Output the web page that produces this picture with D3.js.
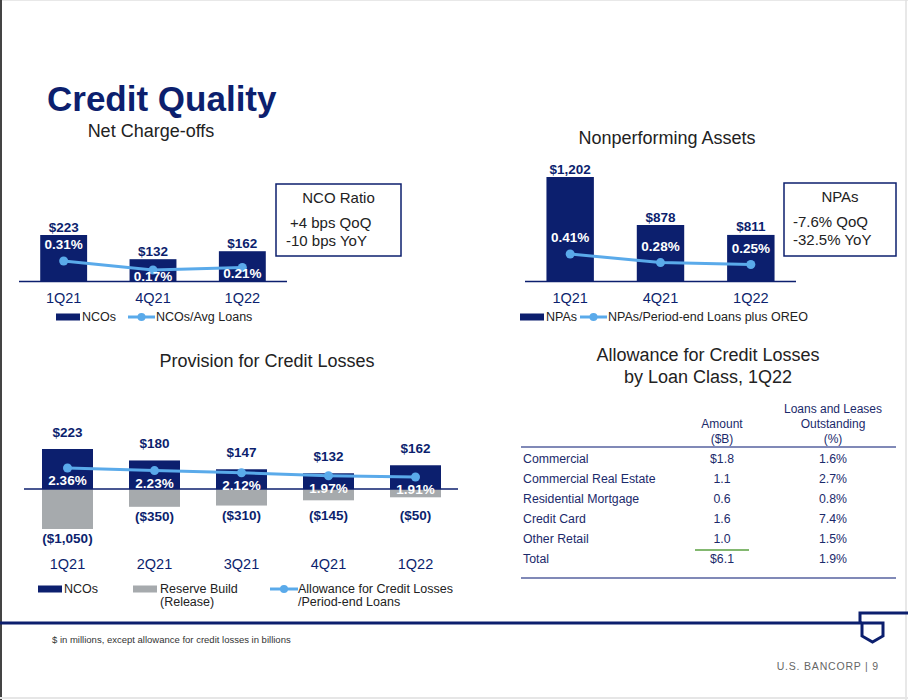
<!DOCTYPE html>
<html><head><meta charset="utf-8">
<script src="https://cdn.jsdelivr.net/npm/d3@7"></script>
<style>
html,body{margin:0;padding:0;background:#fff;}
svg{display:block;font-family:Arial,"Liberation Sans",sans-serif;}
</style></head>
<body>
<svg id="c" width="908" height="700"></svg>
<script>
// ---------- DATA ----------
const ncoQuarters = ["1Q21", "4Q21", "1Q22"];
const ncoValues = [223, 132, 162];
const ncoRatio = [0.31, 0.17, 0.21];

const npaQuarters = ["1Q21", "4Q21", "1Q22"];
const npaValues = [1202, 878, 811];
const npaRatio = [0.41, 0.28, 0.25];

const provQuarters = ["1Q21", "2Q21", "3Q21", "4Q21", "1Q22"];
const provNcos = [223, 180, 147, 132, 162];
const provReserve = [-1050, -350, -310, -145, -50];
const provAllowance = [2.36, 2.23, 2.12, 1.97, 1.91];

const loanClasses = ["Commercial", "Commercial Real Estate", "Residential Mortgage", "Credit Card", "Other Retail", "Total"];
const allowAmount = ["$1.8", "1.1", "0.6", "1.6", "1.0", "$6.1"];
const allowPct = ["1.6%", "2.7%", "0.8%", "7.4%", "1.5%", "1.9%"];

// ---------- STYLE ----------
const NAVY = "#0c1f6e", LBLUE = "#5aaaea", GRAY = "#a6aaad", TXT = "#222";
const fmtD = v => "$" + d3.format(",")(v);
const fmtN = v => "($" + d3.format(",")(Math.abs(v)) + ")";
const fmtP = v => v.toFixed(2) + "%";
const LFS = 12.5, VFS = 13.5;

const svg = d3.select("#c");

// page frame
svg.append("rect").attr("x",0).attr("y",0).attr("width",908).attr("height",700).attr("fill","#fff");
svg.append("line").attr("x1",0).attr("x2",908).attr("y1",0.5).attr("y2",0.5).attr("stroke","#e8e8e8");
svg.append("line").attr("x1",1).attr("x2",1).attr("y1",0).attr("y2",700).attr("stroke","#444").attr("stroke-width",2);
svg.append("line").attr("x1",906).attr("x2",906).attr("y1",0).attr("y2",700).attr("stroke","#e0e0e0").attr("stroke-width",1.5);
svg.append("line").attr("x1",0).attr("x2",908).attr("y1",698).attr("y2",698).attr("stroke","#e6e6e6").attr("stroke-width",2);

// Title
svg.append("text").attr("x",47).attr("y",111).attr("font-size",35).attr("font-weight","bold")
  .attr("fill",NAVY).text("Credit Quality");

function subtitle(x, y, t) {
  svg.append("text").attr("x",x).attr("y",y).attr("text-anchor","middle").attr("font-size",18).attr("fill",TXT).text(t);
}

// ---------- generic bar+line chart ----------
function barLine(cfg) {
  const g = svg.append("g");
  const x = d3.scaleBand().domain(cfg.cats).range(cfg.xr).paddingInner(0.475).paddingOuter(0.2375);
  const yB = d3.scaleLinear().domain(cfg.barDomain).range(cfg.barRange);
  const yL = d3.scaleLinear().domain(cfg.lineDomain).range(cfg.lineRange);
  const base = cfg.barRange[0];
  g.selectAll("rect.bar").data(cfg.values).join("rect").attr("class","bar")
    .attr("x",(d,i)=>x(cfg.cats[i])).attr("width",x.bandwidth())
    .attr("y",d=>yB(d)).attr("height",d=>base-yB(d)).attr("fill",NAVY);
  g.append("line").attr("x1",cfg.xr[0]).attr("x2",cfg.xr[1]).attr("y1",base+0.5).attr("y2",base+0.5)
    .attr("stroke",NAVY).attr("stroke-width",1.3);
  const cx = (i)=>x(cfg.cats[i])+x.bandwidth()/2;
  g.append("path").datum(cfg.ratio).attr("fill","none").attr("stroke",LBLUE).attr("stroke-width",3)
    .attr("d", d3.line().x((d,i)=>cx(i)).y(d=>yL(d)));
  g.selectAll("circle").data(cfg.ratio).join("circle").attr("cx",(d,i)=>cx(i)).attr("cy",d=>yL(d)).attr("r",4.5).attr("fill",LBLUE);
  g.selectAll("text.val").data(cfg.values).join("text").attr("class","val")
    .attr("x",(d,i)=>cx(i)).attr("y",d=>yB(d)-3.5).attr("text-anchor","middle")
    .attr("font-size",VFS).attr("font-weight","bold").attr("fill",NAVY).text(fmtD);
  g.selectAll("text.pct").data(cfg.ratio).join("text").attr("class","pct")
    .attr("x",(d,i)=>cx(i))
    .attr("y",(d,i)=>{ const p=yL(d), top=yB(cfg.values[i]); return (p-12 >= top+12) ? p-12 : p+11; })
    .attr("text-anchor","middle").attr("font-size",VFS).attr("font-weight","bold").attr("fill","#fff").text(fmtP);
  const ax = g.append("g").attr("transform",`translate(0,${base})`)
    .call(d3.axisBottom(x).tickSize(0).tickPadding(12));
  ax.select(".domain").remove();
  ax.selectAll("text").attr("font-size",14.5).attr("fill",NAVY).attr("font-family","Arial, 'Liberation Sans', sans-serif");
  // legend
  const L = cfg.legend;
  g.append("rect").attr("x",L.x).attr("y",L.y-3.5).attr("width",24).attr("height",7).attr("fill",NAVY);
  g.append("text").attr("x",L.x+26).attr("y",L.y+4).attr("font-size",LFS).attr("fill",TXT).text(L.a);
  g.append("line").attr("x1",L.lx).attr("x2",L.lx+27).attr("y1",L.y).attr("y2",L.y).attr("stroke",LBLUE).attr("stroke-width",3);
  g.append("circle").attr("cx",L.lx+13.5).attr("cy",L.y).attr("r",4).attr("fill",LBLUE);
  g.append("text").attr("x",L.lx+28).attr("y",L.y+4).attr("font-size",LFS).attr("fill",TXT).text(L.b);
}

function box(x, y, w, h, title, lines, tx) {
  svg.append("rect").attr("x",x).attr("y",y).attr("width",w).attr("height",h).attr("fill","#fff")
    .attr("stroke",NAVY).attr("stroke-width",1.5);
  svg.append("text").attr("x",x+w/2).attr("y",y+19).attr("text-anchor","middle").attr("font-size",15).attr("fill",TXT).text(title);
  lines.forEach((t,i)=>svg.append("text").attr("x",tx[i]).attr("y",y+44+i*18).attr("font-size",15).attr("fill",TXT).text(t));
}

// Chart 1: Net Charge-offs
subtitle(151, 137, "Net Charge-offs");
barLine({cats:ncoQuarters, values:ncoValues, ratio:ncoRatio, xr:[19,287],
  barDomain:[50,223], barRange:[281,235], lineDomain:[0,0.31], lineRange:[281,261],
  legend:{x:56, y:317, a:"NCOs", lx:128, b:"NCOs/Avg Loans"}});
box(276, 184, 125, 72, "NCO Ratio", ["+4 bps QoQ", "-10 bps YoY"], [290, 286]);

// Chart 2: Nonperforming Assets
subtitle(667, 144, "Nonperforming Assets");
barLine({cats:npaQuarters, values:npaValues, ratio:npaRatio, xr:[525,796],
  barDomain:[500,1202], barRange:[281,177], lineDomain:[0,0.41], lineRange:[281,254],
  legend:{x:520, y:317, a:"NPAs", lx:580, b:"NPAs/Period-end Loans plus OREO"}});
box(784, 183, 112, 73, "NPAs", ["-7.6% QoQ", "-32.5% YoY"], [793, 793]);

// Chart 3: Provision for Credit Losses
subtitle(267, 367, "Provision for Credit Losses");
(function(){
  const g = svg.append("g");
  const x = d3.scaleBand().domain(provQuarters).range([24,459]).paddingInner(0.414).paddingOuter(0.207);
  const zero = 489;
  const yPos = d3.scaleLinear().domain([73,223]).range([zero,449]);
  const yNeg = d3.scaleLinear().domain([212,-1050]).range([zero,529]);
  const yL = d3.scaleLinear().domain([1.91,2.36]).range([477,468]);
  const cx = i => x(provQuarters[i]) + x.bandwidth()/2;
  g.selectAll("rect.pos").data(provNcos).join("rect").attr("class","pos")
    .attr("x",(d,i)=>x(provQuarters[i])).attr("width",x.bandwidth())
    .attr("y",d=>yPos(d)).attr("height",d=>zero-yPos(d)).attr("fill",NAVY);
  g.selectAll("rect.neg").data(provReserve).join("rect").attr("class","neg")
    .attr("x",(d,i)=>x(provQuarters[i])).attr("width",x.bandwidth())
    .attr("y",zero).attr("height",d=>yNeg(d)-zero).attr("fill",GRAY);
  g.append("line").attr("x1",24).attr("x2",458).attr("y1",zero).attr("y2",zero).attr("stroke",NAVY).attr("stroke-width",1.3);
  g.append("path").datum(provAllowance).attr("fill","none").attr("stroke",LBLUE).attr("stroke-width",3)
    .attr("d", d3.line().x((d,i)=>cx(i)).y(d=>yL(d)));
  g.selectAll("circle").data(provAllowance).join("circle").attr("cx",(d,i)=>cx(i)).attr("cy",d=>yL(d)).attr("r",4.5).attr("fill",LBLUE);
  g.selectAll("text.val").data(provNcos).join("text").attr("class","val")
    .attr("x",(d,i)=>cx(i)).attr("y",d=>yPos(d)-12).attr("text-anchor","middle")
    .attr("font-size",VFS).attr("font-weight","bold").attr("fill",NAVY).text(fmtD);
  g.selectAll("text.neg").data(provReserve).join("text").attr("class","neg")
    .attr("x",(d,i)=>cx(i)).attr("y",d=>Math.max(yNeg(d)+14, 520)).attr("text-anchor","middle")
    .attr("font-size",VFS).attr("font-weight","bold").attr("fill",NAVY).text(fmtN);
  g.selectAll("text.pct").data(provAllowance).join("text").attr("class","pct")
    .attr("x",(d,i)=>cx(i)).attr("y",d=>yL(d)+17).attr("text-anchor","middle")
    .attr("font-size",VFS).attr("font-weight","bold").attr("fill","#fff").text(fmtP);
  const ax = g.append("g").attr("transform","translate(0,569)").call(d3.axisBottom(x).tickSize(0).tickPadding(0));
  ax.select(".domain").remove();
  ax.selectAll("text").attr("dy",0).attr("font-size",14.5).attr("fill",NAVY).attr("font-family","Arial, 'Liberation Sans', sans-serif");
  // legend
  const ly = 589;
  g.append("rect").attr("x",38).attr("y",ly-3.5).attr("width",24).attr("height",7).attr("fill",NAVY);
  g.append("text").attr("x",64).attr("y",ly+4).attr("font-size",LFS).attr("fill",TXT).text("NCOs");
  g.append("rect").attr("x",133).attr("y",ly-3.5).attr("width",24).attr("height",7).attr("fill",GRAY);
  g.append("text").attr("x",160).attr("y",ly+4).attr("font-size",LFS).attr("fill",TXT).text("Reserve Build");
  g.append("text").attr("x",160).attr("y",ly+17).attr("font-size",LFS).attr("fill",TXT).text("(Release)");
  g.append("line").attr("x1",270).attr("x2",298).attr("y1",ly).attr("y2",ly).attr("stroke",LBLUE).attr("stroke-width",3);
  g.append("circle").attr("cx",284).attr("cy",ly).attr("r",4).attr("fill",LBLUE);
  g.append("text").attr("x",298).attr("y",ly+4).attr("font-size",LFS).attr("fill",TXT).text("Allowance for Credit Losses");
  g.append("text").attr("x",298).attr("y",ly+17).attr("font-size",LFS).attr("fill",TXT).text("/Period-end Loans");
})();

// Chart 4: table
subtitle(708, 361, "Allowance for Credit Losses");
subtitle(708, 383, "by Loan Class, 1Q22");
(function(){
  const g = svg.append("g");
  const TC = "#1b2a6b", RULE = "#56629f";
  const colAmt = 722, colPct = 833;
  [["Loans and Leases",413,colPct],["Outstanding",428,colPct],["(%)",443,colPct],["Amount",428,colAmt],["($B)",443,colAmt]]
    .forEach(([t,y,x])=>g.append("text").attr("x",x).attr("y",y).attr("text-anchor","middle").attr("font-size",12).attr("fill",TC).text(t));
  g.append("line").attr("x1",521).attr("x2",896).attr("y1",447).attr("y2",447).attr("stroke",RULE).attr("stroke-width",1.5);
  const ry = d3.scaleLinear().domain([0,1]).range([463,483]);
  g.selectAll("text.lc").data(loanClasses).join("text").attr("class","lc")
    .attr("x",523).attr("y",(d,i)=>ry(i)).attr("font-size",12.3).attr("fill",TC).text(d=>d);
  g.selectAll("text.am").data(allowAmount).join("text").attr("class","am")
    .attr("x",colAmt).attr("y",(d,i)=>ry(i)).attr("text-anchor","middle").attr("font-size",12.3).attr("fill",TC).text(d=>d);
  g.selectAll("text.pc").data(allowPct).join("text").attr("class","pc")
    .attr("x",colPct).attr("y",(d,i)=>ry(i)).attr("text-anchor","middle").attr("font-size",12.3).attr("fill",TC).text(d=>d);
  g.append("line").attr("x1",695).attr("x2",749).attr("y1",550).attr("y2",550).attr("stroke","#5aa040").attr("stroke-width",1.5);
  g.append("line").attr("x1",521).attr("x2",896).attr("y1",578).attr("y2",578).attr("stroke",RULE).attr("stroke-width",1.5);
})();

// Footer
svg.append("line").attr("x1",0).attr("x2",862).attr("y1",623).attr("y2",623).attr("stroke",NAVY).attr("stroke-width",3);
svg.append("path").attr("d","M860,623 V613 H908").attr("fill","none").attr("stroke",NAVY).attr("stroke-width",3);
svg.append("path").attr("d","M862,623 H883 V636 L872.5,642 L862,636 Z").attr("fill","none").attr("stroke",NAVY).attr("stroke-width",3).attr("stroke-linejoin","miter");
svg.append("text").attr("x",52).attr("y",643).attr("font-size",9.5).attr("fill","#333")
  .text("$ in millions, except allowance for credit losses in billions");
svg.append("text").attr("x",879).attr("y",670).attr("text-anchor","end").attr("font-size",10.5).attr("letter-spacing",0.8)
  .attr("fill","#666").text("U.S. BANCORP  |  9");
</script>
</body></html>
